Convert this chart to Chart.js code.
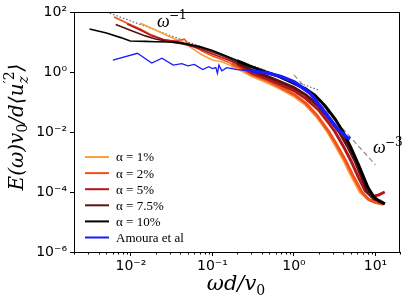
<!DOCTYPE html>
<html>
<head>
<meta charset="utf-8">
<script src="https://cdn.jsdelivr.net/npm/chart.js@4.4.0/dist/chart.umd.min.js"></script>
<style>
  html, body { margin: 0; padding: 0; background: #fff; }
</style>
</head>
<body>
<canvas id="spectrum" width="407" height="305"></canvas>
<script>
// --- data (omega d / v0 , normalised spectrum) ---
const labels = ['α = 1%', 'α = 2%', 'α = 5%', 'α = 7.5%', 'α = 10%', 'Amoura et al'];
const colors = ['#ffa040', '#f2521c', '#b3161a', '#5c1212', '#000000', '#1a1aff'];

const freq1 = [0.013, 0.02, 0.03, 0.045, 0.06, 0.075, 0.1, 0.13, 0.17, 0.22, 0.3, 0.45, 0.65, 1.0, 1.4, 1.9, 2.6, 3.3, 4.2, 5.2, 6.5, 8, 10, 12];
const spec1 = [42, 25, 15, 9.3, 5.5, 3.7, 2.5, 2.2, 1.6, 1.2, 0.75, 0.48, 0.3, 0.16, 0.08, 0.033, 0.01, 0.0033, 0.001, 0.0003, 0.0001, 0.00006, 0.000045, 0.00004];

const freq2 = [0.0062, 0.009, 0.013, 0.018, 0.026, 0.035, 0.045, 0.05, 0.06, 0.08, 0.1, 0.13, 0.17, 0.22, 0.3, 0.45, 0.65, 1.0, 1.4, 1.9, 2.7, 3.4, 4.3, 5.3, 6.8, 8.3, 10, 12.5];
const spec2 = [68, 42, 27, 17, 11.5, 10.5, 12.5, 9, 7, 4.5, 3.4, 2.6, 1.9, 1.4, 0.85, 0.55, 0.33, 0.18, 0.09, 0.037, 0.01, 0.0035, 0.0011, 0.00035, 0.0001, 0.000055, 0.000045, 0.00004];

const freq5 = [0.009, 0.013, 0.018, 0.025, 0.035, 0.05, 0.07, 0.1, 0.14, 0.2, 0.3, 0.45, 0.65, 1.0, 1.4, 2.0, 2.6, 3.2, 4.0, 5.0, 6.2, 7.5, 9, 11, 13];
const spec5 = [40, 25, 16, 12, 10.5, 8, 5.8, 4.0, 2.8, 1.9, 0.95, 0.62, 0.4, 0.24, 0.13, 0.055, 0.022, 0.01, 0.0035, 0.0011, 0.0003, 0.00011, 0.00007, 0.00008, 0.0001];

const freq75 = [0.0065, 0.01, 0.015, 0.02, 0.03, 0.04, 0.05, 0.07, 0.1, 0.14, 0.2, 0.3, 0.45, 0.65, 1.0, 1.4, 2.0, 2.7, 3.6, 4.5, 5.6, 7.0, 7.8, 9.5, 11.5, 13];
const spec75 = [38, 24, 16, 12.5, 10, 9, 8, 6.5, 4.6, 3.3, 2.1, 1.15, 0.75, 0.5, 0.3, 0.17, 0.075, 0.028, 0.01, 0.0035, 0.0011, 0.00025, 0.00011, 0.00006, 0.00005, 0.00004];

const freq10 = [0.0031, 0.005, 0.0075, 0.0098, 0.015, 0.02, 0.03, 0.04, 0.05, 0.07, 0.1, 0.14, 0.2, 0.3, 0.45, 0.65, 1.0, 1.4, 1.8, 2.4, 3.2, 4.0, 5.0, 6.2, 7.2, 8.1, 9.5, 11, 13];
const spec10 = [27, 20, 14, 10.8, 10.5, 10.2, 10, 9.5, 8.5, 7, 5.2, 3.6, 2.4, 1.5, 1.0, 0.72, 0.42, 0.27, 0.17, 0.075, 0.027, 0.01, 0.003, 0.0008, 0.0003, 0.00014, 0.00007, 0.00005, 0.00004];

const freqAm = [0.006, 0.012, 0.018, 0.024, 0.033, 0.042, 0.05, 0.06, 0.076, 0.09, 0.1, 0.11, 0.115, 0.12, 0.13, 0.15, 0.2, 0.3, 0.5, 0.7, 1.0, 1.57, 2.4, 3.4, 4.5, 4.9];
const specAm = [2.5, 4.2, 2.0, 2.9, 1.7, 1.9, 1.6, 1.8, 1.2, 1.5, 1.3, 1.4, 0.9, 1.7, 1.1, 1.4, 1.2, 1.1, 0.9, 0.7, 0.47, 0.2, 0.045, 0.013, 0.0065, 0.006];

// reference slopes omega^-1 (dotted) and omega^-3 (dashed)
const slope1Freq = [0.005, 2];
const slope1Spec = [100, 0.25];
const slope3Freq = [1, 10];
const slope3Spec = [0.8, 0.0008];

const xMajor = [0.01, 0.1, 1, 10];
const yMajor = [1e-6, 1e-4, 1e-2, 1, 100];

const series = [
  [freq1, spec1], [freq2, spec2], [freq5, spec5],
  [freq75, spec75], [freq10, spec10], [freqAm, specAm]
];

const toPoints = (xs, ys) => xs.map((x, i) => ({ x: x, y: ys[i] }));

const sup = { '-': '⁻', '0': '⁰', '1': '¹', '2': '²', '3': '³', '4': '⁴', '5': '⁵', '6': '⁶', '7': '⁷', '8': '⁸', '9': '⁹' };
const powLabel = (v) => '10' + String(Math.round(Math.log10(v))).split('').map(c => sup[c]).join('');

const datasets = series.map((s, i) => ({
  label: labels[i],
  data: toPoints(s[0], s[1]),
  borderColor: colors[i],
  borderWidth: 1.6,
  pointRadius: 0,
  tension: 0,
  order: labels.length - i,
  legendItem: true,
  segment: {
    borderWidth: (ctx) => {
      const x = ctx.p0.parsed.x;
      if (i === 5) return x > 0.25 ? 3.5 : 1.3;
      return x > 0.15 ? 3 : 1.6;
    }
  }
}));

datasets.push({
  label: 'omega^-1',
  data: toPoints(slope1Freq, slope1Spec),
  borderColor: '#6a6a6a',
  borderWidth: 1.2,
  borderDash: [1.5, 2],
  pointRadius: 0,
  order: 20
});
datasets.push({
  label: 'omega^-3',
  data: toPoints(slope3Freq, slope3Spec),
  borderColor: '#8c8c8c',
  borderWidth: 1.2,
  borderDash: [5, 3],
  pointRadius: 0,
  order: 20
});

// draw a run of text pieces along one baseline, centred on (0,0)
const drawPieces = (ctx, pieces) => {
  let total = 0;
  const widths = pieces.map(p => {
    ctx.font = p.font;
    const w = ctx.measureText(p.t).width;
    if (!p.stack) total += w;
    return w;
  });
  let x = -total / 2, lastX = x;
  pieces.forEach((p, k) => {
    ctx.font = p.font;
    const at = p.stack ? lastX : x;
    ctx.fillText(p.t, at, p.dy || 0);
    if (!p.stack) { lastX = x; x += widths[k]; }
  });
};

const extras = {
  id: 'extras',
  afterDraw(chart) {
    const { ctx, chartArea: a, scales } = chart;
    ctx.save();

    // frame
    ctx.strokeStyle = '#000';
    ctx.lineWidth = 1;
    ctx.strokeRect(Math.round(a.left) + 0.5, Math.round(a.top) + 0.5,
      Math.round(a.right - a.left) - 1, Math.round(a.bottom - a.top));

    // minor x ticks
    ctx.beginPath();
    for (let e = -3; e <= 1; e++) {
      for (let m = 2; m <= 9; m++) {
        const v = m * Math.pow(10, e);
        if (v < scales.x.min || v > scales.x.max) continue;
        const px = Math.round(scales.x.getPixelForValue(v)) + 0.5;
        ctx.moveTo(px, a.bottom);
        ctx.lineTo(px, a.bottom + 2.5);
      }
    }
    ctx.stroke();

    // legend
    const items = chart.data.datasets.filter(d => d.legendItem);
    ctx.textBaseline = 'middle';
    ctx.textAlign = 'left';
    ctx.font = '13px "Liberation Serif"';
    items.forEach((d, k) => {
      const y = 157 + k * 16.1;
      ctx.strokeStyle = d.borderColor;
      ctx.lineWidth = 2;
      ctx.beginPath();
      ctx.moveTo(85, y);
      ctx.lineTo(109, y);
      ctx.stroke();
      ctx.fillStyle = '#000';
      ctx.fillText(d.label, 116, y + 1);
    });

    // slope annotations
    ctx.fillStyle = '#000';
    ctx.textBaseline = 'alphabetic';
    ctx.font = 'italic 18px "Liberation Serif"';
    ctx.fillText('ω', 157, 27);
    ctx.font = '12px "DejaVu Serif"';
    ctx.fillText('−1', 169, 19);
    ctx.font = 'italic 18px "Liberation Serif"';
    ctx.fillText('ω', 373, 153);
    ctx.font = '12px "DejaVu Serif"';
    ctx.fillText('−3', 385, 146);

    // axis titles
    const big = 'italic 20px "DejaVu Serif"';
    const small = '14px "DejaVu Serif"';
    const smallIt = 'italic 14px "DejaVu Serif"';
    ctx.textAlign = 'left';
    ctx.save();
    ctx.translate(236, 290);
    drawPieces(ctx, [
      { t: 'ωd/v', font: 'italic 21px "DejaVu Serif"' },
      { t: '0', font: '14px "DejaVu Serif"', dy: 5 }
    ]);
    ctx.restore();

    ctx.save();
    ctx.translate(23, 127);
    ctx.rotate(-Math.PI / 2);
    drawPieces(ctx, [
      { t: 'E(ω)v', font: big },
      { t: '0', font: small, dy: 4 },
      { t: '/d⟨u', font: big },
      { t: '′2', font: small, dy: -9 },
      { t: 'z', font: smallIt, dy: 5, stack: true },
      { t: '⟩', font: big }
    ]);
    ctx.restore();

    ctx.restore();
  }
};

new Chart(document.getElementById('spectrum'), {
  type: 'line',
  data: { datasets: datasets },
  options: {
    responsive: false,
    animation: false,
    devicePixelRatio: 1,
    layout: { padding: { left: 0, right: 7, top: 12, bottom: 0 } },
    plugins: { legend: { display: false }, tooltip: { enabled: false } },
    scales: {
      x: {
        type: 'logarithmic',
        min: 0.002,
        max: 20,
        afterBuildTicks: (scale) => { scale.ticks = xMajor.map(v => ({ value: v })); },
        afterFit: (scale) => { scale.height = 53; },
        ticks: {
          callback: (v) => powLabel(v),
          font: { family: 'DejaVu Sans', size: 14 },
          color: '#000',
          padding: 2,
          maxRotation: 0,
          autoSkip: false
        },
        grid: { drawOnChartArea: false, tickLength: 4, color: '#000' },
        border: { display: false }
      },
      y: {
        type: 'logarithmic',
        min: 1e-6,
        max: 100,
        afterBuildTicks: (scale) => { scale.ticks = yMajor.map(v => ({ value: v })); },
        afterFit: (scale) => { scale.width = 74; },
        ticks: {
          callback: (v) => powLabel(v),
          font: { family: 'DejaVu Sans', size: 14 },
          color: '#000',
          padding: 3,
          autoSkip: false
        },
        grid: { drawOnChartArea: false, tickLength: 4, color: '#000' },
        border: { display: false }
      }
    }
  },
  plugins: [extras]
});
</script>
</body>
</html>
